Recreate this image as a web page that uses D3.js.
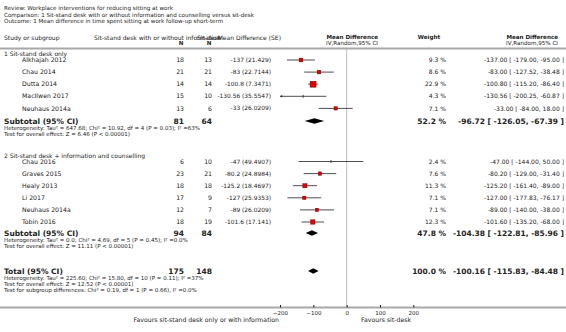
<!DOCTYPE html>
<html>
<head>
<meta charset="utf-8">
<script src="https://cdn.jsdelivr.net/npm/d3@7"></script>
<style>
body { margin: 0; background: #fff; }
svg text { font-family: "DejaVu Sans", Verdana, sans-serif; fill: #222; }
</style>
</head>
<body>
<script>
// header text
var reviewLines = [
  "Review:  Workplace interventions for reducing sitting at work",
  "Comparison:  1 Sit-stand desk with or without information and counselling versus sit-desk",
  "Outcome:  1 Mean difference in time spent sitting at work follow-up short-term"
];
var groupNames = ["1 Sit-stand desk only", "2 Sit-stand desk + information and counselling"];

// studies
var studyNames = ["Alkhajah 2012", "Chau 2014", "Dutta 2014", "MacIlwen 2017", "Neuhaus 2014a",
                  "Chau 2016", "Graves 2015", "Healy 2013", "Li 2017", "Neuhaus 2014a", "Tobin 2016"];
var studyGroup = [0, 0, 0, 0, 0, 1, 1, 1, 1, 1, 1];
var nStand = [18, 21, 14, 15, 13, 6, 23, 18, 17, 12, 18];
var nDesk  = [13, 21, 14, 10, 6, 10, 21, 18, 9, 7, 19];
var md     = [-137, -83, -100.8, -130.56, -33, -47, -80.2, -125.2, -127, -89, -101.6];
var se     = [21.429, 22.7144, 7.3471, 35.5547, 26.0209, 49.4907, 24.8984, 18.4697, 25.9353, 26.0209, 17.141];
var weight = [9.3, 8.6, 22.9, 4.3, 7.1, 2.4, 7.6, 11.3, 7.1, 7.1, 12.3];
var ciLo   = [-179, -127.52, -115.2, -200.25, -84, -144, -129, -161.4, -177.83, -140, -135.2];
var ciHi   = [-95, -38.48, -86.4, -60.87, 18, 50, -31.4, -89, -76.17, -38, -68];

// pooled: subgroup 1, subgroup 2, total
var pooledLabel = ["Subtotal (95% CI)", "Subtotal (95% CI)", "Total (95% CI)"];
var pooledNStand = [81, 94, 175];
var pooledNDesk  = [64, 84, 148];
var pooledWeight = [52.2, 47.8, 100.0];
var pooledMd = [-96.72, -104.38, -100.16];
var pooledLo = [-126.05, -122.81, -115.83];
var pooledHi = [-67.39, -85.96, -84.48];
var pooledNotes = [
  ["Heterogeneity: Tau\u00b2 = 647.68; Chi\u00b2 = 10.92, df = 4 (P = 0.03); I\u00b2 =63%",
   "Test for overall effect: Z = 6.46 (P < 0.00001)"],
  ["Heterogeneity: Tau\u00b2 = 0.0; Chi\u00b2 = 4.69, df = 5 (P = 0.45); I\u00b2 =0.0%",
   "Test for overall effect: Z = 11.11 (P < 0.00001)"],
  ["Heterogeneity: Tau\u00b2 = 225.60; Chi\u00b2 = 15.80, df = 10 (P = 0.11); I\u00b2 =37%",
   "Test for overall effect: Z = 12.52 (P < 0.00001)",
   "Test for subgroup differences: Chi\u00b2 = 0.19, df = 1 (P = 0.66), I\u00b2 =0.0%"]
];

var xTicks = [-200, -100, 0, 100, 200];

var width = 566, height = 332;

// column positions
var col = {left: 4, name: 22, nStand: 184, nDesk: 212, mdse: 271, weight: 446, ci: 564};
var axisY = 307.5;

var svg = d3.select("body").append("svg")
    .attr("width", width)
    .attr("height", height);

var x = d3.scaleLinear().domain([-200, 200]).range([280, 413.33]);

function txt(xp, yp, s, size, anchor, bold) {
  return svg.append("text")
      .attr("x", xp).attr("y", yp)
      .attr("dy", "0.35em")
      .style("font-size", size + "px")
      .style("font-weight", bold ? "bold" : "normal")
      .attr("text-anchor", anchor || "start")
      .text(s);
}

// title block
reviewLines.forEach(function(s, i) { txt(col.left, 8.5 + i * 6.5, s, 5.6); });

// column headings
txt(col.left, 38, "Study or subgroup", 6);
txt(94, 38, "Sit-stand desk with or without information", 6);
txt(col.nStand - 3, 43.5, "N", 5.6, "middle", true);
txt(col.nDesk - 3, 38, "Sit-desk", 6, "middle");
txt(col.nDesk - 3, 43.5, "N", 5.6, "middle", true);
txt(281, 38, "Mean Difference (SE)", 6, "end");
txt(378, 37.5, "Mean Difference", 5.6, "end", true);
txt(378, 43, "IV,Random,95% CI", 5.6, "end");
txt(429, 37.5, "Weight", 5.6, "middle", true);
txt(558, 37.5, "Mean Difference", 5.6, "end", true);
txt(558, 43, "IV,Random,95% CI", 5.6, "end");

svg.append("line")
    .attr("x1", 0).attr("x2", width)
    .attr("y1", 48.5).attr("y2", 48.5)
    .style("stroke", "#a8a8a8").style("stroke-width", 2);

// zero line
svg.append("line")
    .attr("x1", x(0)).attr("x2", x(0))
    .attr("y1", 49).attr("y2", axisY)
    .style("stroke", "#bdbdbd").style("stroke-width", 1);

// row layout
var groupY = [54, 155.5];
var firstRowY = [60, 161.5];
var rowStep = 12.1;
var pooledY = [121, 233, 271];

function fmt2(v) { return v.toFixed(2); }
function ciText(m, lo, hi) { return fmt2(m) + " [ " + fmt2(lo) + ", " + fmt2(hi) + " ]"; }

groupNames.forEach(function(g, i) { txt(col.left, groupY[i], g, 6); });

var idxInGroup = [0, 0];
var studyY = studyGroup.map(function(g) {
  var y = firstRowY[g] + idxInGroup[g] * rowStep;
  idxInGroup[g]++;
  return y;
});

var xMin = x.domain()[0], xMax = x.domain()[1];

studyNames.forEach(function(s, i) {
  var y = studyY[i];
  txt(col.name, y, s, 6.2);
  txt(col.nStand, y, nStand[i], 6.2, "end");
  txt(col.nDesk, y, nDesk[i], 6.2, "end");
  txt(col.mdse, y, md[i] + " (" + se[i] + ")", 5.9, "end");
  txt(col.weight, y, weight[i].toFixed(1) + " %", 6, "end");
  txt(col.ci, y, ciText(md[i], ciLo[i], ciHi[i]), 6, "end");

  var lo = Math.max(ciLo[i], xMin), hi = Math.min(ciHi[i], xMax);
  svg.append("line")
      .attr("x1", x(lo)).attr("x2", x(hi))
      .attr("y1", y).attr("y2", y)
      .style("stroke", "#222").style("stroke-width", 0.8);
  // arrow heads when the CI runs off the scale
  if (ciLo[i] < xMin) {
    svg.append("path")
        .attr("d", "M" + x(xMin) + "," + y + "l2.2,-1.3v2.6Z")
        .style("fill", "#222");
  }
  if (ciHi[i] > xMax) {
    svg.append("path")
        .attr("d", "M" + x(xMax) + "," + y + "l-2.2,-1.3v2.6Z")
        .style("fill", "#222");
  }
  svg.append("line")
      .attr("x1", x(md[i])).attr("x2", x(md[i]))
      .attr("y1", y - 1.5).attr("y2", y + 1.5)
      .style("stroke", "#222").style("stroke-width", 0.8);
  var side = 1.25 * Math.sqrt(weight[i]);
  if (side >= 3) {
    svg.append("rect")
        .attr("x", x(md[i]) - side / 2).attr("y", y - side / 2)
        .attr("width", side).attr("height", side)
        .style("fill", "#e00000")
        .style("stroke", "#600").style("stroke-width", 0.4);
  }
});

pooledLabel.forEach(function(s, i) {
  var y = pooledY[i];
  txt(col.left, y, s, 7.5, "start", true);
  txt(col.nStand, y, pooledNStand[i], 7.5, "end", true);
  txt(col.nDesk, y, pooledNDesk[i], 7.5, "end", true);
  txt(col.weight, y, pooledWeight[i].toFixed(1) + " %", 7.5, "end", true);
  txt(col.ci, y, ciText(pooledMd[i], pooledLo[i], pooledHi[i]), 7.5, "end", true);
  var h = 2.8;
  svg.append("path")
      .attr("d", "M" + x(pooledLo[i]) + "," + y +
                 "L" + x(pooledMd[i]) + "," + (y - h) +
                 "L" + x(pooledHi[i]) + "," + y +
                 "L" + x(pooledMd[i]) + "," + (y + h) + "Z")
      .style("fill", "#000");
  pooledNotes[i].forEach(function(n, j) {
    txt(col.left, y + 7 + j * 6, n, 5.5);
  });
});

// axis
svg.append("line")
    .attr("x1", 0).attr("x2", width)
    .attr("y1", axisY).attr("y2", axisY)
    .style("stroke", "#a8a8a8").style("stroke-width", 2);

var axis = svg.append("g")
    .attr("transform", "translate(0," + axisY + ")")
    .call(d3.axisBottom(x).tickValues(xTicks).tickSizeInner(-2.5).tickSizeOuter(0).tickPadding(3.5));
axis.select(".domain").remove();
axis.selectAll(".tick line").style("stroke", "#222");
axis.selectAll(".tick text")
    .style("font-size", "5.5px")
    .style("font-family", "DejaVu Sans, Verdana, sans-serif")
    .style("fill", "#222");

txt(279, 319.5, "Favours sit-stand desk only or with information", 6.2, "end");
txt(361, 319.5, "Favours sit-desk", 6.2, "start");
</script>
</body>
</html>
